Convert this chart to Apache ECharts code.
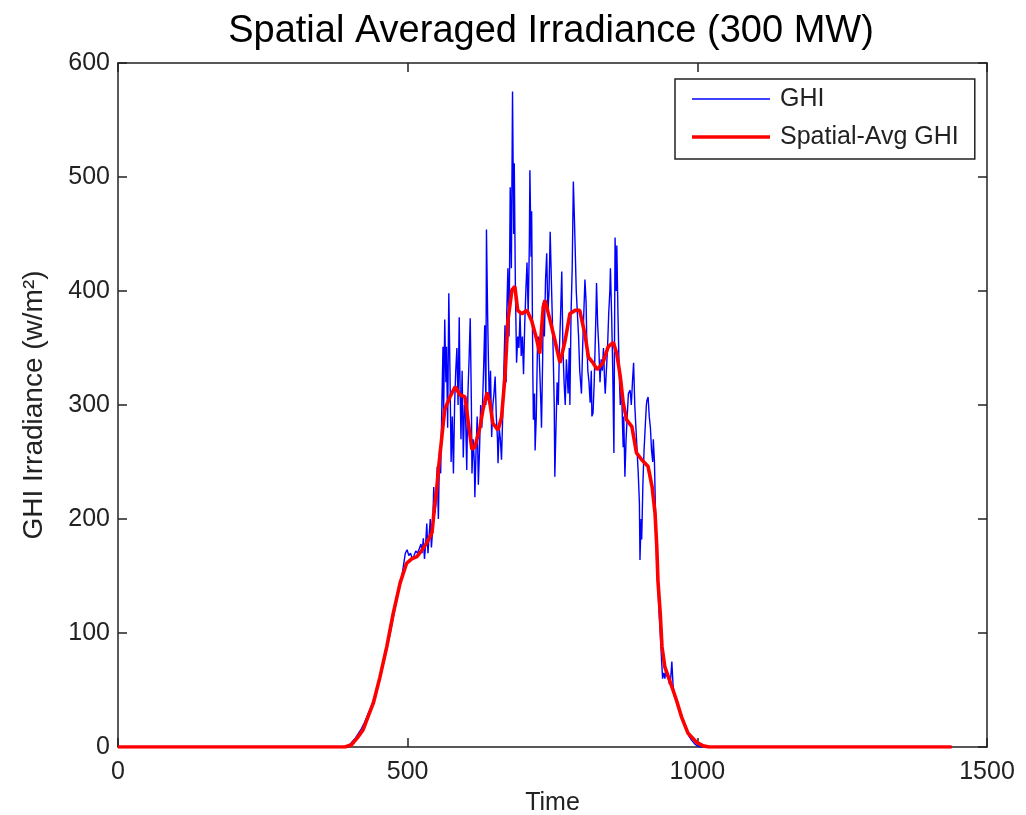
<!DOCTYPE html>
<html>
<head>
<meta charset="utf-8">
<script src="https://cdn.jsdelivr.net/npm/echarts@6/dist/echarts.min.js"></script>
<style>html,body{margin:0;padding:0;background:#fff;}#c{width:1026px;height:815px;}</style>
</head>
<body>
<div id="c"></div>
<script>
const xTicks = [0, 500, 1000, 1500];
const yTicks = [0, 100, 200, 300, 400, 500, 600];

const ghiTime = [0,398,400,405,410,415,420,425,430,435,440,445,450,455,460,465,470,475,480,485,490,493,496,499,502,505,508,511,514,517,520,523,525,527,529,531,533,535,537,539,541,543,545,547,549,551,553,555,557,559,561,562,564,566,567,569,571,573,575,577,579,581,583,585,587,589,590,592,594,596,598,600,602,604,606,608,610,611,613,615,616,618,620,622,624,626,628,631,633,635,636,638,639,641,643,645,647,649,651,653,655,656,658,660,662,664,666,668,670,671,673,675,677,679,681,683,684,686,688,690,692,694,696,698,700,702,704,706,708,710,711,713,714,716,717,719,720,722,724,726,728,730,731,733,734,736,738,740,742,744,746,748,749,751,753,754,756,758,760,762,764,766,768,770,772,774,776,777,779,780,782,784,786,788,789,791,793,795,797,799,800,802,804,806,808,809,811,813,815,817,818,820,822,823,825,826,828,830,832,834,836,838,840,841,843,845,847,849,850,852,854,856,858,860,861,863,865,867,869,871,872,873,875,877,879,881,884,886,888,890,892,894,896,898,900,901,903,904,906,908,910,912,913,915,917,919,921,923,924,926,928,930,932,934,936,938,940,942,944,946,948,950,952,954,956,958,960,962,965,970,975,980,985,990,995,1000,1005,1439];
const ghiValue = [0,0,2,5,8,12,16,21,27,33,40,47,56,66,77,88,100,113,126,139,150,160,170,173,168,170,165,168,172,170,174,178,170,183,165,178,196,170,185,200,175,190,228,205,215,246,200,260,240,300,351,290,375,320,351,280,398,330,250,290,240,300,330,350,300,377,330,270,330,254,300,290,243,310,340,376,300,240,270,250,219,260,290,230,260,300,280,330,370,300,454,380,350,300,330,272,300,310,325,290,270,249,280,270,252,290,330,370,320,380,420,360,491,420,575,450,512,400,337,360,350,380,343,360,327,370,400,425,380,440,506,430,470,330,287,310,260,290,350,360,330,300,280,340,390,360,410,433,380,400,452,410,390,350,300,237,280,320,300,350,380,417,350,320,300,340,320,310,350,300,380,420,496,460,440,400,380,360,330,330,310,350,380,410,390,360,330,320,302,330,290,293,320,340,380,407,370,350,320,340,330,350,320,310,330,350,380,400,420,380,330,258,447,400,440,380,330,300,320,280,263,290,237,270,290,310,313,300,320,337,300,280,260,240,214,164,200,182,230,260,280,300,304,307,290,280,260,250,270,250,200,160,140,118,100,79,60,65,60,70,62,60,55,60,75,55,45,42,38,30,23,16,10,6,3,1,0,0];

const avgTime = [0,392,403,413,423,432,441,452,464,475,487,498,507,516,525,533,542,547,550,553,559,564,573,582,590,599,604,611,616,625,630,637,642,647,656,662,668,673,680,685,690,697,706,714,723,728,734,737,746,754,763,772,780,789,797,806,812,820,827,837,846,855,861,867,872,878,887,895,904,915,922,927,930,932,936,939,944,956,964,973,984,999,1010,1020,1439];
const avgValue = [0,0,2,8,15,27,39,61,88,117,144,161,165,167,173,179,188,214,225,243,272,296,307,316,309,307,287,261,263,281,296,311,302,284,278,289,325,374,401,404,383,380,383,374,357,345,386,392,374,357,337,357,380,383,383,362,342,337,331,337,351,355,345,325,302,287,281,258,252,246,228,205,176,146,117,88,70,53,41,26,12,4,1,0,0];

const ghiData = ghiTime.map((t, i) => [t, ghiValue[i]]);
const avgData = avgTime.map((t, i) => [t, avgValue[i]]);

const FONT = 'Liberation Sans, Arial, sans-serif';
const lineC = '#222';

const chart = echarts.init(document.getElementById('c'), null, {renderer: 'canvas'});
const baseX = {
  type: 'value', min: xTicks[0], max: xTicks[xTicks.length - 1], interval: xTicks[1] - xTicks[0],
  splitLine: {show: false},
  axisLine: {show: true, onZero: false, lineStyle: {color: lineC, width: 1.5}},
  axisTick: {show: true, inside: true, length: 9, lineStyle: {color: lineC, width: 1.5}}
};
const baseY = {
  type: 'value', min: yTicks[0], max: yTicks[yTicks.length - 1], interval: yTicks[1] - yTicks[0],
  splitLine: {show: false},
  axisLine: {show: true, onZero: false, lineStyle: {color: lineC, width: 1.5}},
  axisTick: {show: true, inside: true, length: 9, lineStyle: {color: lineC, width: 1.5}}
};

chart.setOption({
  animation: false,
  backgroundColor: '#fff',
  title: {
    text: 'Spatial Averaged Irradiance (300 MW)',
    left: 546, top: 8, textAlign: 'center',
    textStyle: {fontFamily: FONT, fontSize: 38, fontWeight: 'normal', color: '#000'}
  },
  legend: {
    left: 675, top: 79, orient: 'vertical',
    itemWidth: 78, itemHeight: 14, itemGap: 8,
    padding: [5, 16, 7, 17],
    borderColor: lineC, borderWidth: 1.5, backgroundColor: '#fff',
    textStyle: {fontFamily: FONT, fontSize: 25, color: '#222', lineHeight: 30, padding: [0, 0, 0, 5]},
    data: [
      {name: 'GHI', icon: 'path://M0,0 H80 V1.5 H0 Z', itemStyle: {color: '#0000ff'}},
      {name: 'Spatial-Avg GHI', icon: 'path://M0,0 H80 V3.6 H0 Z', itemStyle: {color: '#ff0000'}}
    ]
  },
  grid: {left: 118, right: 39, top: 63, bottom: 68, containLabel: false, outerBoundsMode: 'none'},
  xAxis: [
    Object.assign({}, baseX, {
      position: 'bottom',
      name: 'Time', nameLocation: 'middle', nameGap: 44,
      nameTextStyle: {fontFamily: FONT, fontSize: 25, color: '#222'},
      axisLabel: {fontFamily: FONT, fontSize: 25, color: '#222', margin: 13, formatter: v => String(v)}
    }),
    Object.assign({}, baseX, {position: 'top', axisLabel: {show: false}})
  ],
  yAxis: [
    Object.assign({}, baseY, {
      position: 'left',
      name: 'GHI Irradiance (w/m²)', nameLocation: 'middle', nameGap: 70,
      nameTextStyle: {fontFamily: FONT, fontSize: 28, color: '#222'},
      axisLabel: {fontFamily: FONT, fontSize: 25, color: '#222', margin: 8, formatter: v => String(v)}
    }),
    Object.assign({}, baseY, {position: 'right', axisLabel: {show: false}})
  ],
  series: [
    {
      name: 'GHI', type: 'line', data: ghiData, xAxisIndex: 0, yAxisIndex: 0,
      symbol: 'none', lineStyle: {color: '#0000ff', width: 1.4}, itemStyle: {color: '#0000ff'}, z: 2
    },
    {
      name: 'Spatial-Avg GHI', type: 'line', data: avgData, xAxisIndex: 0, yAxisIndex: 0,
      symbol: 'none', lineStyle: {color: '#ff0000', width: 3.6}, itemStyle: {color: '#ff0000'}, z: 3
    }
  ]
});
</script>
</body>
</html>
